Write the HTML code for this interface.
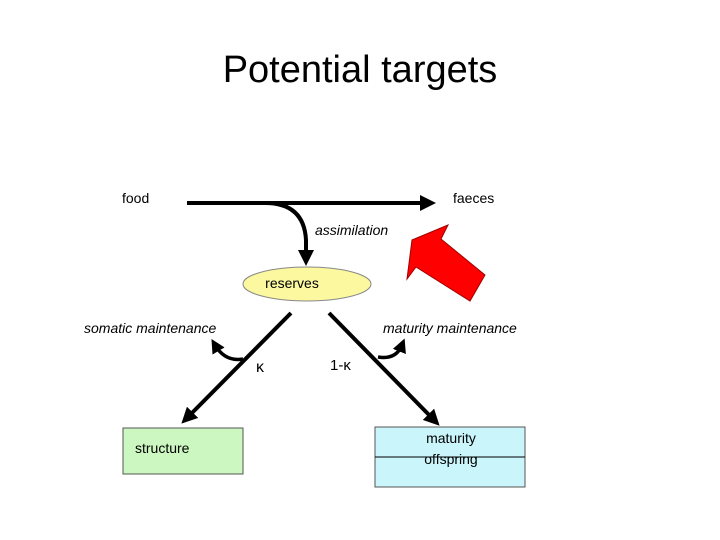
<!DOCTYPE html>
<html><head><meta charset="utf-8"><style>
body{margin:0;background:#fff}
svg{display:block}
text{font-family:"Liberation Sans","DejaVu Sans",sans-serif}
</style></head><body>
<svg width="720" height="540" viewBox="0 0 720 540" xmlns="http://www.w3.org/2000/svg">
<defs>
<marker id="ah" markerWidth="4" markerHeight="4" refX="2" refY="2" orient="auto" markerUnits="strokeWidth">
<path d="M0,0 L4,2 L0,4 z" fill="#000"/>
</marker>
</defs>
<text x="360" y="82" font-size="38" text-anchor="middle" fill="#000">Potential targets</text>
<text x="122" y="203" font-size="14">food</text>
<text x="453" y="203" font-size="14">faeces</text>
<line x1="187" y1="203" x2="428" y2="203" stroke="#000" stroke-width="4" marker-end="url(#ah)"/>
<path d="M265,203 Q304,203 306,240 L306,258" fill="none" stroke="#000" stroke-width="4" marker-end="url(#ah)"/>
<text x="315" y="235" font-size="14" font-style="italic">assimilation</text>
<polygon points="412,240 448,225 441,239 485,275 470,301 416,267 407,279" fill="#ff0000" stroke="#a00000" stroke-width="1"/>
<ellipse cx="307" cy="284" rx="64" ry="17" fill="#fcf8a0" stroke="#888" stroke-width="1"/>
<text x="292" y="288" font-size="14" text-anchor="middle">reserves</text>
<text x="84" y="333" font-size="14" font-style="italic">somatic maintenance</text>
<text x="383" y="333" font-size="14" font-style="italic">maturity maintenance</text>
<line x1="291" y1="313" x2="187" y2="418" stroke="#000" stroke-width="4" marker-end="url(#ah)"/>
<line x1="329" y1="313" x2="434" y2="420" stroke="#000" stroke-width="4" marker-end="url(#ah)"/>
<path d="M243,359 Q225,362 215,345" fill="none" stroke="#000" stroke-width="3.5" marker-end="url(#ah)"/>
<path d="M378,357 Q396,360 402,345" fill="none" stroke="#000" stroke-width="3.5" marker-end="url(#ah)"/>
<text x="256" y="372" font-size="16">κ</text>
<text x="330" y="370" font-size="15">1-κ</text>
<rect x="123" y="428" width="120" height="46" fill="#ccf7c0" stroke="#555" stroke-width="1"/>
<text x="135" y="453" font-size="14">structure</text>
<rect x="375" y="427" width="150" height="60" fill="#c9f5fb" stroke="#555" stroke-width="1"/>
<line x1="375" y1="457" x2="525" y2="457" stroke="#000" stroke-width="1"/>
<text x="451" y="443" font-size="14" text-anchor="middle">maturity</text>
<text x="451" y="464" font-size="14" text-anchor="middle">offspring</text>
</svg>
</body></html>
